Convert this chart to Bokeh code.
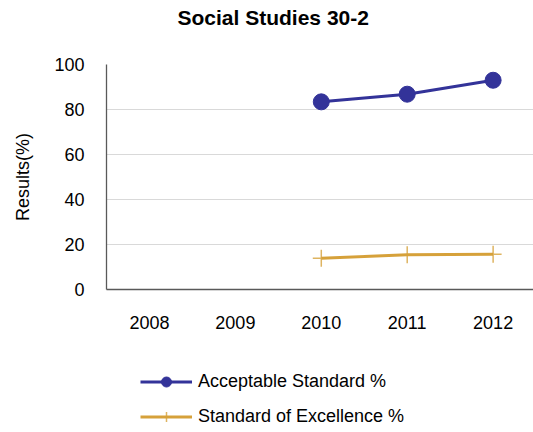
from bokeh.plotting import figure
from bokeh.layouts import column
from bokeh.models import Range1d, FixedTicker, Legend, LegendItem, Title
from bokeh.embed import file_html
from bokeh.resources import INLINE

# Results by school year
years = ["2008", "2009", "2010", "2011", "2012"]
result_years = ["2010", "2011", "2012"]
acceptable = [83.4, 86.8, 93.0]
excellence = [13.9, 15.4, 15.7]
y_ticks = [0, 20, 40, 60, 80, 100]

FONT = "Liberation Sans"
BLUE = "#333399"
GOLD = "#D6A13A"

xs = [years.index(y) for y in result_years]

p = figure(
    width=533, height=345,
    output_backend="svg", toolbar_location=None,
    x_range=Range1d(-0.5, 4.47), y_range=Range1d(0, 100),
    min_border_left=106, min_border_right=0,
    min_border_top=0, min_border_bottom=56,
)
p.title = None
# blank spacer between the title and the plot area
p.add_layout(Title(text=" ", text_font_size="1px", standoff=25), "above")
p.add_layout(Title(text="Social Studies 30-2", align="left", offset=71,
                   vertical_align="top",
                   text_font=FONT, text_font_size="21px", text_font_style="bold",
                   text_color="#000000", standoff=11), "above")

p.outline_line_color = None
p.background_fill_color = "white"
p.border_fill_color = "white"

# axes
p.xaxis.ticker = FixedTicker(ticks=list(range(len(years))))
p.xaxis.major_label_overrides = {i: y for i, y in enumerate(years)}
p.yaxis.ticker = FixedTicker(ticks=y_ticks)
for ax in (p.xaxis[0], p.yaxis[0]):
    ax.major_tick_in = 0
    ax.major_tick_out = 0
    ax.minor_tick_in = 0
    ax.minor_tick_out = 0
    ax.axis_line_color = "#595959"
    ax.axis_line_width = 1.3
    ax.major_label_text_font = FONT
    ax.major_label_text_font_size = "18px"
    ax.major_label_text_color = "#000000"
p.xaxis.major_label_standoff = 26
p.yaxis.major_label_standoff = 22
p.yaxis.axis_label = "Results(%)"
p.yaxis.axis_label_text_font = FONT
p.yaxis.axis_label_text_font_size = "18px"
p.yaxis.axis_label_text_font_style = "normal"
p.yaxis.axis_label_text_color = "#000000"
p.yaxis.axis_label_standoff = 18

p.xgrid.visible = False
p.ygrid.grid_line_color = "#d9d9d9"
p.ygrid.grid_line_width = 1


def draw_series(fig):
    """Draw both result series on a figure; returns the renderer pairs."""
    a_line = fig.line(xs, acceptable, line_color=BLUE, line_width=3)
    a_pts = fig.scatter(xs, acceptable, marker="circle", size=16,
                        fill_color=BLUE, line_color=BLUE)
    e_line = fig.line(xs, excellence, line_color=GOLD, line_width=3)
    e_pts = fig.scatter(xs, excellence, marker="cross", size=17,
                        line_color=GOLD, line_width=1.5, line_alpha=0.8)
    return [a_line, a_pts], [e_line, e_pts]


draw_series(p)

# legend strip under the chart; its own copy of the series sits outside
# the strip's visible range so only the legend keys show
leg = figure(
    width=533, height=87,
    output_backend="svg", toolbar_location=None,
    x_axis_type=None, y_axis_type=None,
    x_range=Range1d(-0.5, 4.47), y_range=Range1d(200, 300),
    min_border=0, min_border_left=0, min_border_right=0,
    min_border_top=0, min_border_bottom=0,
)
leg.outline_line_color = None
leg.grid.visible = False
acc_keys, exc_keys = draw_series(leg)

legend = Legend(
    items=[
        LegendItem(label="Acceptable Standard %", renderers=acc_keys),
        LegendItem(label="Standard of Excellence %", renderers=exc_keys),
    ],
    location=(34, 3), orientation="vertical",
    padding=0, margin=0, spacing=10,
    glyph_width=52, glyph_height=25, label_height=25, label_standoff=6,
    label_text_font=FONT, label_text_font_size="18px", label_text_color="#000000",
    border_line_alpha=0, background_fill_alpha=0,
)
leg.add_layout(legend, "center")

open("out.html", "w").write(file_html(column(p, leg, spacing=0), INLINE))
